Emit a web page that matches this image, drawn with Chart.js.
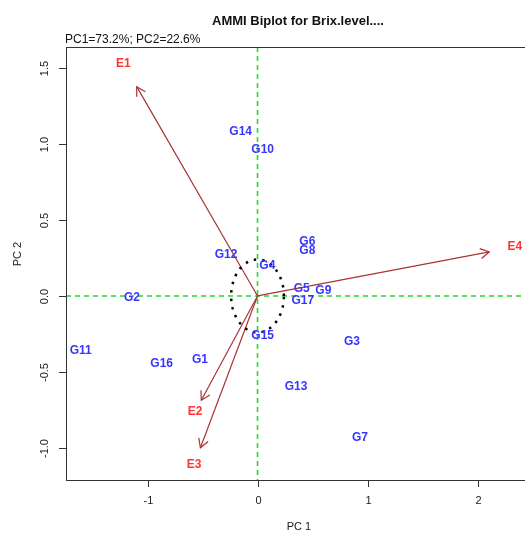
<!DOCTYPE html>
<html>
<head>
<meta charset="utf-8">
<script src="https://cdn.jsdelivr.net/npm/chart.js@4.4.1/dist/chart.umd.min.js"></script>
<style>
  html, body { margin: 0; padding: 0; background: #fff; overflow: hidden; }
  #wrap { width: 545px; height: 534px; }
</style>
</head>
<body>
<div id="wrap"><canvas id="biplot" width="545" height="534"></canvas></div>
<script>
// genotype scores (PC1, PC2)
const genotypes = ['G1', 'G2', 'G3', 'G4', 'G5', 'G6', 'G7', 'G8', 'G9', 'G10', 'G11', 'G12', 'G13', 'G14', 'G15', 'G16', 'G17'];
const genoPC1 = [-0.523, -1.141, 0.859, 0.089, 0.402, 0.453, 0.932, 0.453, 0.598, 0.047, -1.607, -0.286, 0.350, -0.153, 0.047, -0.871, 0.411];
const genoPC2 = [-0.421, -0.013, -0.303, 0.197, 0.051, 0.357, -0.930, 0.298, 0.033, 0.965, -0.362, 0.270, -0.597, 1.081, -0.263, -0.443, -0.033];

// environment scores (label positions); arrows are drawn to 0.9 of them
const environments = ['E1', 'E2', 'E3', 'E4'];
const envPC1 = [-1.22, -0.568, -0.577, 2.34];
const envPC2 = [1.53, -0.763, -1.11, 0.322];
const arrowShrink = 0.9;

const circleRadius = 0.24;

const xTicks = [-1, 0, 1, 2];
const xTickLabels = ['-1', '0', '1', '2'];
const yTicks = [-1, -0.5, 0, 0.5, 1, 1.5];
const yTickLabels = ['-1.0', '-0.5', '0.0', '0.5', '1.0', '1.5'];

const titleText = 'AMMI Biplot for Brix.level....';
const subtitleText = 'PC1=73.2%; PC2=22.6%';

const FONT = '"Liberation Sans", Arial, sans-serif';

// dotted circle around the origin
const circlePts = [];
for (let i = 0; i <= 120; i++) {
    const t = (i / 120) * Math.PI * 2;
    circlePts.push({ x: circleRadius * Math.cos(t), y: circleRadius * Math.sin(t) });
}

const envArrows = environments.map((e, i) => ({
    label: e,
    data: [{ x: 0, y: 0 }, { x: envPC1[i] * arrowShrink, y: envPC2[i] * arrowShrink }],
    showLine: true,
    borderColor: '#a83434',
    borderWidth: 1.2,
    pointRadius: 0,
    isArrow: true
}));

const biplotDecor = {
    id: 'biplotDecor',
    beforeDatasetsDraw(chart) {
        const { ctx, chartArea: a, scales: { x, y } } = chart;
        const x0 = x.getPixelForValue(0), y0 = y.getPixelForValue(0);
        ctx.save();
        ctx.strokeStyle = '#22dd22';
        ctx.lineWidth = 1.6;
        ctx.setLineDash([5, 4]);
        ctx.beginPath();
        ctx.moveTo(a.left, y0); ctx.lineTo(a.right, y0);
        ctx.moveTo(x0, a.top); ctx.lineTo(x0, a.bottom);
        ctx.stroke();
        ctx.restore();
    },
    afterDatasetsDraw(chart) {
        const ctx = chart.ctx;
        ctx.save();
        // arrow heads
        chart.data.datasets.forEach((ds, di) => {
            if (!ds.isArrow) return;
            const pts = chart.getDatasetMeta(di).data;
            const o = pts[0], t = pts[1];
            const ang = Math.atan2(t.y - o.y, t.x - o.x);
            const len = 10, spread = Math.PI / 6;
            ctx.strokeStyle = ds.borderColor;
            ctx.lineWidth = 1.2;
            ctx.beginPath();
            ctx.moveTo(t.x - len * Math.cos(ang - spread), t.y - len * Math.sin(ang - spread));
            ctx.lineTo(t.x, t.y);
            ctx.lineTo(t.x - len * Math.cos(ang + spread), t.y - len * Math.sin(ang + spread));
            ctx.stroke();
        });
        // point labels
        ctx.font = 'bold 12px ' + FONT;
        ctx.textAlign = 'center';
        ctx.textBaseline = 'middle';
        chart.data.datasets.forEach((ds, di) => {
            if (!ds.textColor) return;
            const pts = chart.getDatasetMeta(di).data;
            ctx.fillStyle = ds.textColor;
            pts.forEach((p, i) => ctx.fillText(ds.names[i], p.x, p.y));
        });
        ctx.restore();
    },
    afterDraw(chart) {
        const { ctx, chartArea: a, scales: { x, y } } = chart;
        ctx.save();
        // box
        ctx.strokeStyle = '#333';
        ctx.lineWidth = 1;
        ctx.strokeRect(a.left + 0.5, a.top + 0.5, a.right - a.left, a.bottom - a.top);
        // x ticks
        ctx.fillStyle = '#1a1a1a';
        ctx.font = '11px ' + FONT;
        ctx.textAlign = 'center';
        ctx.textBaseline = 'middle';
        ctx.beginPath();
        xTicks.forEach((v, i) => {
            const px = Math.round(x.getPixelForValue(v)) + 0.5;
            ctx.moveTo(px, a.bottom); ctx.lineTo(px, a.bottom + 7);
            ctx.fillText(xTickLabels[i], px, 501);
        });
        // y ticks
        yTicks.forEach((v, i) => {
            const py = Math.round(y.getPixelForValue(v)) + 0.5;
            ctx.moveTo(a.left - 7, py); ctx.lineTo(a.left, py);
            ctx.save();
            ctx.translate(45, py);
            ctx.rotate(-Math.PI / 2);
            ctx.fillText(yTickLabels[i], 0, 0);
            ctx.restore();
        });
        ctx.stroke();
        // axis titles
        ctx.fillText('PC 1', 299, 527);
        ctx.save();
        ctx.translate(18, 254);
        ctx.rotate(-Math.PI / 2);
        ctx.fillText('PC 2', 0, 0);
        ctx.restore();
        // title + subtitle
        ctx.fillStyle = '#111';
        ctx.font = 'bold 13px ' + FONT;
        ctx.fillText(titleText, 298, 21);
        ctx.font = '12px ' + FONT;
        ctx.textAlign = 'left';
        ctx.fillText(subtitleText, 65, 40);
        ctx.restore();
    }
};

new Chart(document.getElementById('biplot'), {
    type: 'scatter',
    data: {
        datasets: [
            {
                label: 'circle',
                data: circlePts,
                showLine: true,
                borderColor: '#000',
                borderWidth: 2.5,
                borderDash: [2.5, 6],
                pointRadius: 0
            },
            ...envArrows,
            {
                label: 'genotypes',
                data: genotypes.map((g, i) => ({ x: genoPC1[i], y: genoPC2[i] })),
                pointRadius: 0,
                names: genotypes,
                textColor: '#3535ff'
            },
            {
                label: 'environments',
                data: environments.map((e, i) => ({ x: envPC1[i], y: envPC2[i] })),
                pointRadius: 0,
                names: environments,
                textColor: '#ff3333'
            }
        ]
    },
    options: {
        responsive: false,
        devicePixelRatio: 1,
        animation: false,
        layout: { padding: { left: 66, top: 47, right: 15, bottom: 54 } },
        plugins: { legend: { display: false }, tooltip: { enabled: false } },
        scales: {
            x: { type: 'linear', min: -1.741, max: 2.477, display: false },
            y: { type: 'linear', min: -1.211, max: 1.638, display: false }
        }
    },
    plugins: [biplotDecor]
});
</script>
</body>
</html>
